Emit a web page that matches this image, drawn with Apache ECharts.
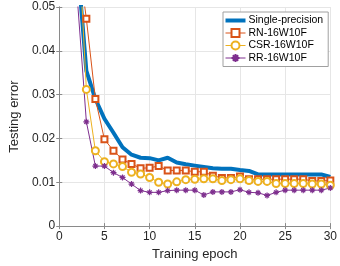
<!DOCTYPE html>
<html>
<head>
<meta charset="utf-8">
<script src="https://cdn.jsdelivr.net/npm/echarts@6/dist/echarts.min.js"></script>
<style>
html,body{margin:0;padding:0;background:#fff;}
#chart{width:340px;height:266px;}
</style>
</head>
<body>
<div id="chart"></div>
<script>
var epochs = [1,2,3,4,5,6,7,8,9,10,11,12,13,14,15,16,17,18,19,20,21,22,23,24,25,26,27,28,29,30];
var singlePrecision = [0.090,0.0606,0.0354,0.0290,0.0245,0.0213,0.0180,0.0163,0.0156,0.0155,0.0150,0.0156,0.0145,0.0141,0.0138,0.0135,0.0132,0.0131,0.0131,0.0128,0.0126,0.0118,0.0118,0.0118,0.0118,0.0118,0.0118,0.0118,0.0118,0.0112];
var rn16w10f = [0.120,0.063,0.0473,0.0290,0.0198,0.0172,0.0152,0.0142,0.0132,0.0133,0.0137,0.0127,0.0127,0.0127,0.0124,0.0124,0.0115,0.0110,0.0110,0.0113,0.0107,0.0107,0.0107,0.0107,0.0107,0.0107,0.0107,0.0103,0.0103,0.0104];
var csr16w10f = [0.130,0.071,0.0312,0.0172,0.0147,0.0142,0.0136,0.0123,0.0119,0.0111,0.0100,0.0096,0.0101,0.0106,0.0107,0.0108,0.0108,0.0104,0.0106,0.0108,0.0104,0.0102,0.0102,0.0097,0.0097,0.0097,0.0097,0.0096,0.0096,0.0093];
var rr16w10f = [0.110,0.052,0.0238,0.0137,0.0137,0.0122,0.0111,0.0096,0.0081,0.0077,0.0077,0.0081,0.0082,0.0082,0.0082,0.0071,0.0078,0.0078,0.0078,0.0083,0.0077,0.0076,0.0070,0.0077,0.0082,0.0082,0.0082,0.0082,0.0082,0.0087];
var seriesNames = ['Single-precision','RN-16W10F','CSR-16W10F','RR-16W10F'];
var xTickLabels = ['0','5','10','15','20','25','30'];
var yTickLabels = ['0','0.01','0.02','0.03','0.04','0.05'];

function pairs(vals){ return epochs.map(function(e,i){ return [e, vals[i]]; }); }

var FONT = 'Liberation Sans';
var axisColor = '#8a8a8a';
var gridColor = '#e6e6e6';
var textColor = '#262626';
var asterisk = 'path://M5,0L5,10M0,5L10,5M1.6,1.6L8.4,8.4M1.6,8.4L8.4,1.6';
var thickBar = 'path://M0,0L20,0L20,4L0,4Z';

var chart = echarts.init(document.getElementById('chart'), null, {renderer:'canvas'});
chart.setOption({
  animation:false,
  backgroundColor:'#fff',
  textStyle:{fontFamily:FONT},
  grid:{left:46,right:8,top:7,bottom:36,containLabel:false},
  xAxis:[{
    type:'value',min:0,max:30,interval:5,position:'bottom',
    axisLine:{show:true,lineStyle:{color:axisColor,width:1}},
    axisTick:{show:true,inside:true,length:3,lineStyle:{color:axisColor}},
    splitLine:{show:true,lineStyle:{color:gridColor,width:1}},
    axisLabel:{fontSize:12,color:textColor,margin:5,fontFamily:FONT,
      formatter:function(v){ return xTickLabels[Math.round(v/5)]; }},
    name:'Training epoch',nameLocation:'middle',nameGap:21,
    nameTextStyle:{fontSize:13,color:textColor,fontFamily:FONT}
  },{
    type:'value',min:0,max:30,interval:5,position:'top',
    axisLine:{show:true,lineStyle:{color:axisColor,width:1}},
    axisTick:{show:true,inside:true,length:3,lineStyle:{color:axisColor}},
    axisLabel:{show:false},splitLine:{show:false}
  }],
  yAxis:[{
    type:'value',min:0,max:0.05,interval:0.01,position:'left',
    axisLine:{show:true,lineStyle:{color:axisColor,width:1}},
    axisTick:{show:true,inside:true,length:3,lineStyle:{color:axisColor}},
    splitLine:{show:true,lineStyle:{color:gridColor,width:1}},
    axisLabel:{fontSize:12,color:textColor,margin:4,fontFamily:FONT,
      formatter:function(v){ return yTickLabels[Math.round(v/0.01)]; }},
    name:'Testing error',nameLocation:'middle',nameGap:33,nameRotate:90,
    nameTextStyle:{fontSize:13,color:textColor,fontFamily:FONT}
  },{
    type:'value',min:0,max:0.05,interval:0.01,position:'right',
    axisLine:{show:true,lineStyle:{color:axisColor,width:1}},
    axisTick:{show:true,inside:true,length:3,lineStyle:{color:axisColor}},
    axisLabel:{show:false},splitLine:{show:false}
  }],
  legend:{
    orient:'vertical',left:223,top:12,
    padding:[3,5,3,2],itemGap:1.5,itemWidth:20,itemHeight:10,
    backgroundColor:'#fff',borderColor:'#a0a0a0',borderWidth:1,
    textStyle:{fontSize:10.5,color:'#000',fontFamily:FONT,padding:[0,0,0,-2]},
    data:[
      {name:seriesNames[0],icon:thickBar,itemStyle:{color:'#0072BD'}},
      {name:seriesNames[1],lineStyle:{width:1}},
      {name:seriesNames[2],lineStyle:{width:1}},
      {name:seriesNames[3],lineStyle:{width:1}}
    ]
  },
  series:[{
    name:seriesNames[0],type:'line',data:pairs(singlePrecision),
    symbol:'none',showSymbol:false,clip:true,
    lineStyle:{color:'#0072BD',width:4},itemStyle:{color:'#0072BD'}
  },{
    name:seriesNames[1],type:'line',data:pairs(rn16w10f),
    symbol:'emptyRect',symbolSize:6,clip:true,
    lineStyle:{color:'#D95319',width:1},
    itemStyle:{color:'#D95319',borderColor:'#D95319',borderWidth:1}
  },{
    name:seriesNames[2],type:'line',data:pairs(csr16w10f),
    symbol:'emptyCircle',symbolSize:7,clip:true,
    lineStyle:{color:'#EDB120',width:1},
    itemStyle:{color:'#EDB120',borderColor:'#EDB120',borderWidth:1}
  },{
    name:seriesNames[3],type:'line',data:pairs(rr16w10f),
    symbol:asterisk,symbolSize:6,clip:true,
    lineStyle:{color:'#7E2F8E',width:1},
    itemStyle:{color:'#7E2F8E',borderColor:'#7E2F8E',borderWidth:1.2}
  }]
});
</script>
</body>
</html>
